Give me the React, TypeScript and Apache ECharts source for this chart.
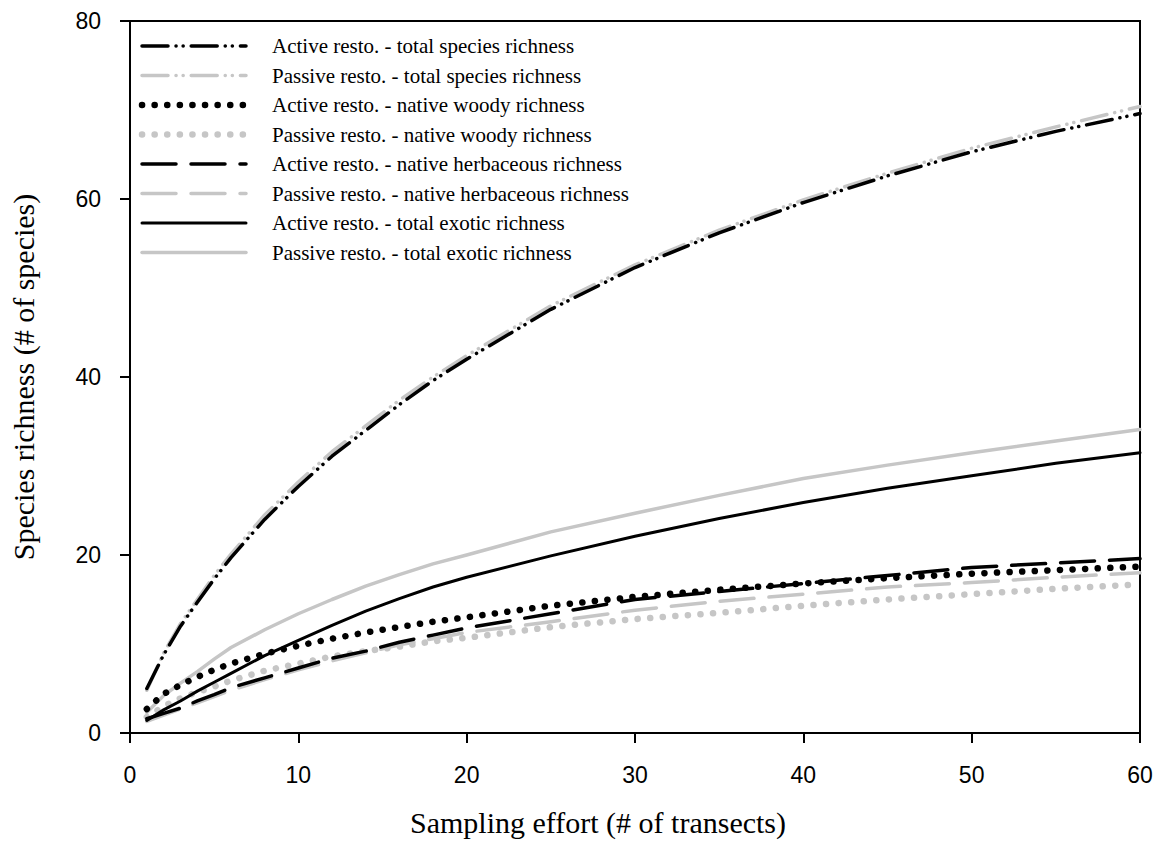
import React, { useEffect, useRef } from "react";
import * as echarts from "echarts";

const effort = [1, 2, 3, 4, 5, 6, 8, 10, 12, 14, 16, 18, 20, 25, 30, 35, 40, 45, 50, 55, 60];

const activeTotal = [5.0, 8.8, 12.0, 14.7, 17.3, 19.7, 24.0, 27.7, 31.1, 34.0, 36.9, 39.6, 42.0, 47.6, 52.3, 56.2, 59.6, 62.6, 65.3, 67.6, 69.6];
const passiveTotal = [4.8, 9.0, 12.3, 15.0, 17.7, 20.1, 24.5, 28.2, 31.6, 34.5, 37.4, 40.0, 42.4, 48.0, 52.6, 56.5, 59.9, 62.9, 65.7, 68.1, 70.4];
const activeWoody = [2.7, 4.4, 5.4, 6.3, 7.1, 7.8, 8.9, 9.8, 10.6, 11.3, 11.9, 12.5, 13.0, 14.3, 15.3, 16.1, 16.8, 17.4, 17.9, 18.3, 18.7];
const passiveWoody = [1.8, 3.0, 3.9, 4.6, 5.2, 5.9, 7.0, 7.8, 8.6, 9.2, 9.7, 10.3, 10.7, 11.9, 12.8, 13.5, 14.3, 15.0, 15.6, 16.2, 16.7];
const activeHerb = [1.6, 2.2, 2.8, 3.6, 4.3, 5.1, 6.2, 7.3, 8.4, 9.2, 10.2, 11.0, 11.8, 13.4, 15.0, 15.9, 16.8, 17.7, 18.6, 19.1, 19.6];
const passiveHerb = [1.3, 2.0, 2.7, 3.4, 4.1, 4.8, 6.0, 7.1, 8.1, 9.0, 9.9, 10.6, 11.3, 12.5, 13.8, 14.8, 15.6, 16.4, 16.9, 17.5, 18.0];
const activeExotic = [1.4, 2.6, 3.6, 4.7, 5.7, 6.7, 8.7, 10.4, 12.1, 13.7, 15.1, 16.4, 17.5, 19.9, 22.1, 24.1, 25.9, 27.5, 28.9, 30.3, 31.5];
const passiveExotic = [2.3, 4.2, 5.6, 6.9, 8.3, 9.6, 11.6, 13.4, 15.0, 16.5, 17.8, 19.0, 20.0, 22.6, 24.7, 26.7, 28.6, 30.1, 31.5, 32.8, 34.1];

const seriesNames = [
  "Active resto. - total species richness",
  "Passive resto. - total species richness",
  "Active resto. - native woody richness",
  "Passive resto. - native woody richness",
  "Active resto. - native herbaceous richness",
  "Passive resto. - native herbaceous richness",
  "Active resto. - total exotic richness",
  "Passive resto. - total exotic richness",
];

const xTitle = "Sampling effort (# of transects)";
const yTitle = "Species richness (# of species)";

const BLACK = "#000000";
const GRAY = "#c6c6c6";

export default function App() {
  const ref = useRef<HTMLDivElement>(null);
  useEffect(() => {
    if (!ref.current) return;
    const chart = echarts.init(ref.current, undefined, { renderer: "svg" });
    const pair = (ys: number[]) => effort.map((x, i) => [x, ys[i]]);
    const dashDotDot = [26, 8, 0.1, 7, 0.1, 8];
    const dotted = [0.1, 12.5];
    const longDash = [34, 15];

    const styles = [
      { color: BLACK, dash: dashDotDot, width: 3.5 },
      { color: GRAY, dash: dashDotDot, width: 3.5 },
      { color: BLACK, dash: dotted, width: 6.5 },
      { color: GRAY, dash: dotted, width: 6.5 },
      { color: BLACK, dash: longDash, width: 3.5 },
      { color: GRAY, dash: longDash, width: 3.5 },
      { color: BLACK, dash: null as any, width: 3 },
      { color: GRAY, dash: null as any, width: 3.5 },
    ];
    const dataSets = [activeTotal, passiveTotal, activeWoody, passiveWoody, activeHerb, passiveHerb, activeExotic, passiveExotic];

    const series = seriesNames.map((name, i) => ({
      name,
      type: "line",
      data: pair(dataSets[i]),
      symbol: "none",
      smooth: false,
      z: i % 2 === 0 ? 3 : 2,
      lineStyle: {
        color: styles[i].color,
        type: styles[i].dash ? styles[i].dash : "solid",
        width: styles[i].width,
        cap: "round",
        join: "round",
      },
      itemStyle: { color: styles[i].color },
    }));

    const legendGraphics: any[] = [];
    const rowTop = 46;
    const rowStep = 29.5;
    seriesNames.forEach((name, i) => {
      const y = rowTop + i * rowStep;
      const st: any = {
        stroke: styles[i].color,
        lineWidth: styles[i].width,
        lineCap: "round",
      };
      if (styles[i].dash) st.lineDash = styles[i].dash;
      legendGraphics.push({
        type: "line",
        shape: { x1: 142, y1: y, x2: 246, y2: y },
        style: st,
        z: 10,
      });
      legendGraphics.push({
        type: "text",
        x: 272,
        y,
        style: {
          text: name,
          font: '21px "Liberation Serif"',
          fill: "#000",
          align: "left",
          verticalAlign: "middle",
        },
        z: 10,
      });
    });

    chart.setOption({
      animation: false,
      backgroundColor: "#ffffff",
      grid: {
        left: 123,
        right: 26,
        top: 21,
        bottom: 121,
        show: true,
        borderColor: "#000",
        borderWidth: 2,
        containLabel: false,
      },
      xAxis: {
        type: "value",
        min: 0,
        max: 60,
        interval: 10,
        axisLine: { show: true, lineStyle: { color: "#000", width: 2 } },
        axisTick: { show: true, inside: false, length: 10, lineStyle: { color: "#000", width: 2 } },
        axisLabel: { margin: 30, fontFamily: "Liberation Sans", fontSize: 23, color: "#000" },
        splitLine: { show: false },
      },
      yAxis: {
        type: "value",
        min: 0,
        max: 80,
        interval: 20,
        name: yTitle,
        nameLocation: "middle",
        nameGap: 92,
        nameTextStyle: { fontFamily: "Liberation Serif", fontSize: 30, color: "#000" },
        axisLine: { show: true, lineStyle: { color: "#000", width: 2 } },
        axisTick: { show: true, inside: false, length: 10, lineStyle: { color: "#000", width: 2 } },
        axisLabel: { margin: 29, fontFamily: "Liberation Sans", fontSize: 23, color: "#000" },
        splitLine: { show: false },
      },
      graphic: [
        {
          type: "text",
          x: 598,
          y: 822,
          style: {
            text: xTitle,
            font: '30px "Liberation Serif"',
            fill: "#000",
            align: "center",
            verticalAlign: "middle",
          },
        },
        ...legendGraphics,
      ],
      series,
    });
    return () => chart.dispose();
  }, []);
  return (
    <div
      ref={ref}
      style={{ position: "fixed", left: 0, top: 0, width: 1166, height: 854, background: "#fff" }}
    />
  );
}
